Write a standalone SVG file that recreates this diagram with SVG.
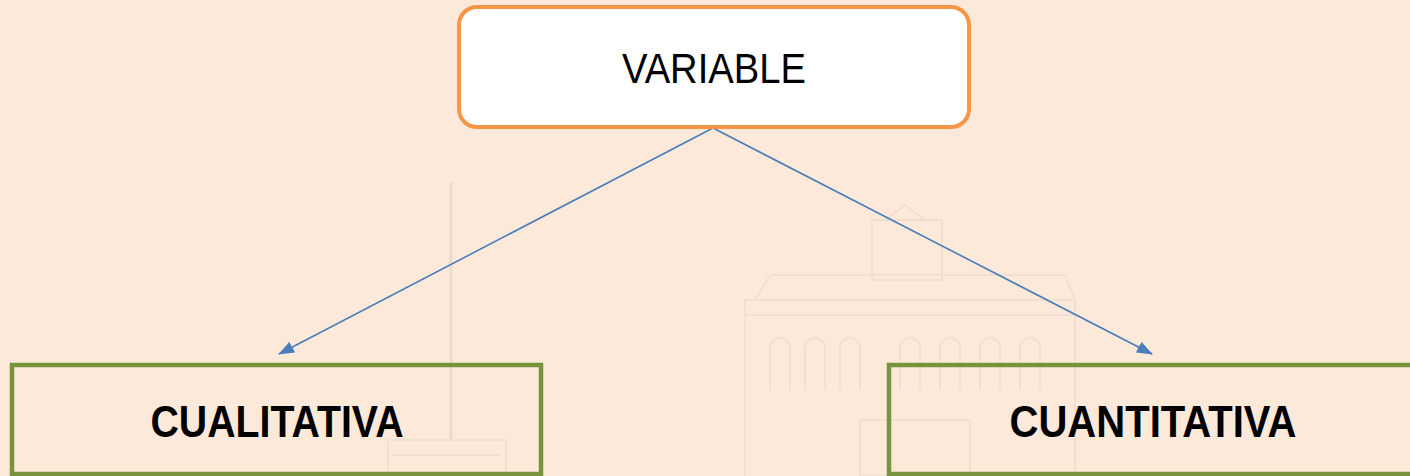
<svg xmlns="http://www.w3.org/2000/svg" width="1410" height="476" viewBox="0 0 1410 476">
<style>
.node-top{fill:#ffffff;stroke:#F79646;stroke-width:4}
.node-leaf{fill:none;stroke:#77933C;stroke-width:4.5}
.t{font-family:"Liberation Sans",Arial,sans-serif;fill:#000;text-anchor:middle}
.tb{font-weight:bold}
.conn{stroke:#4A7EBB;stroke-width:1.6;fill:none}
.wm{fill:none;stroke:#EEDACB;stroke-width:3}
.wm2{fill:none;stroke:#F1DFD1;stroke-width:2}
</style>
<defs>
<marker id="arr" markerWidth="16" markerHeight="12" refX="15" refY="6" orient="auto" markerUnits="userSpaceOnUse" viewBox="0 0 16 12">
<path d="M0,0 L16,6 L0,12 z" fill="#4A7EBB"/>
</marker>
</defs>
<rect x="0" y="0" width="1410" height="476" fill="#FDE9D9"/>
<g id="watermark">
<line class="wm" x1="451" y1="182" x2="451" y2="440"/>
<rect class="wm2" x="388" y="440" width="118" height="36"/>
<line class="wm2" x1="392" y1="455" x2="500" y2="455"/>
<path class="wm2" d="M745,476 V300 H1075 V476"/>
<path class="wm2" d="M755,300 L770,275 H1065 L1075,300"/>
<rect class="wm2" x="872" y="220" width="70" height="60"/>
<path class="wm2" d="M885,220 L905,205 L925,220"/>
<line class="wm2" x1="745" y1="315" x2="1075" y2="315"/>
<path class="wm2" d="M770,390 V345 Q780,330 790,345 V390 M805,390 V345 Q815,330 825,345 V390 M840,390 V345 Q850,330 860,345 V390 M900,390 V345 Q910,330 920,345 V390 M940,390 V345 Q950,330 960,345 V390 M980,390 V345 Q990,330 1000,345 V390 M1020,390 V345 Q1030,330 1040,345 V390"/>
<rect class="wm2" x="860" y="420" width="110" height="56"/>
</g>
<g id="connectors">
<line class="conn" x1="713" y1="128" x2="279" y2="354" marker-end="url(#arr)"/>
<line class="conn" x1="713" y1="128" x2="1152" y2="354" marker-end="url(#arr)"/>
</g>
<g id="node-variable">
<rect class="node-top" x="459" y="7" width="510" height="120" rx="18" ry="18"/>
<text class="t" x="714" y="83" font-size="42" textLength="184" lengthAdjust="spacingAndGlyphs">VARIABLE</text>
</g>
<g id="node-cualitativa">
<rect class="node-leaf" x="12" y="365" width="529" height="109"/>
<text class="t tb" x="277" y="437" font-size="44" textLength="253" lengthAdjust="spacingAndGlyphs">CUALITATIVA</text>
</g>
<g id="node-cuantitativa">
<rect class="node-leaf" x="889" y="365" width="540" height="109"/>
<text class="t tb" x="1153" y="437" font-size="44" textLength="287" lengthAdjust="spacingAndGlyphs">CUANTITATIVA</text>
</g>
</svg>
